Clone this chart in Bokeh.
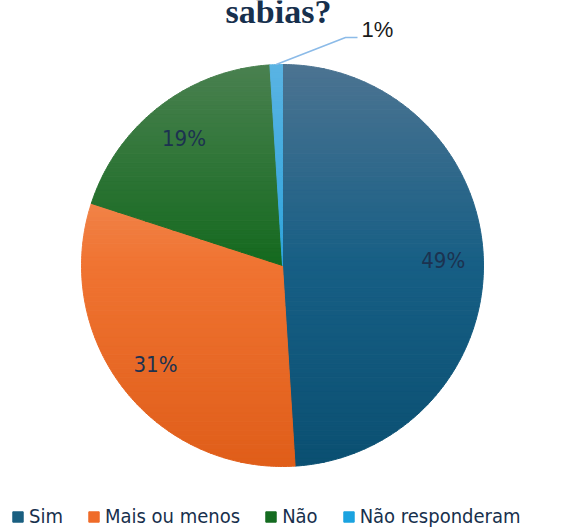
import numpy as np
from bokeh.plotting import figure
from bokeh.models import Range1d, Legend, LegendItem
from bokeh.core.properties import value
from bokeh.embed import file_html
from bokeh.resources import INLINE

# ---- data ----
categories = ["Sim", "Mais ou menos", "Não", "Não responderam"]
values = [49, 31, 19, 1]
labels = ["49%", "31%", "19%", "1%"]
title_text = "sabias?"

# gradient stops per slice (top, middle, bottom of the pie)
colors_top = ["#4c7492", "#f4a377", "#4a8150", "#5ab4e4"]
colors_mid = ["#175f85", "#f07432", "#156a1f", "#2ea4dc"]
colors_bot = ["#0b5072", "#e05e1a", "#0e5e18", "#1d8fc8"]
legend_colors = ["#1a5f80", "#ef6b28", "#146b20", "#1ba3e0"]

W, H = 561, 528
p = figure(width=W, height=H, x_range=Range1d(0, W), y_range=Range1d(0, H),
           output_backend="svg", toolbar_location=None, min_border=0,
           x_axis_type=None, y_axis_type=None)
p.grid.visible = False
p.outline_line_color = None
p.background_fill_color = "white"
p.border_fill_color = "white"

cx, cy, r = 282.0, 263.0, 201.0


def hex2rgb(h):
    h = h.lstrip("#")
    return np.array([int(h[i:i + 2], 16) for i in (0, 2, 4)], dtype=float)


def interp(t, c0, c1, c2):
    a, b, c = hex2rgb(c0), hex2rgb(c1), hex2rgb(c2)
    if t < 0.5:
        v = a + (b - a) * (t / 0.5)
    else:
        v = b + (c - b) * ((t - 0.5) / 0.5)
    v = np.clip(v, 0, 255).astype(int)
    return "#%02x%02x%02x" % tuple(v)


def clip(poly, yv, keep_above):
    out = []
    n = len(poly)
    for i in range(n):
        P = poly[i]
        Q = poly[(i + 1) % n]
        inP = P[1] >= yv if keep_above else P[1] <= yv
        inQ = Q[1] >= yv if keep_above else Q[1] <= yv
        if inP:
            out.append(P)
        if inP != inQ:
            t = (yv - P[1]) / (Q[1] - P[1])
            out.append((P[0] + t * (Q[0] - P[0]), yv))
    return out


fr = np.array(values, dtype=float) / sum(values)
cum = np.concatenate([[0.0], np.cumsum(fr)])

xs, ys, fills = [], [], []
nb = 90
edges = np.linspace(cy - r, cy + r, nb + 1)
for i in range(len(values)):
    a0, a1 = cum[i] * 2 * np.pi, cum[i + 1] * 2 * np.pi
    th = np.linspace(a0, a1, max(8, int((a1 - a0) * 80)))
    poly = [(cx, cy)] + [(cx + r * np.sin(t), cy + r * np.cos(t)) for t in th]
    for b in range(nb):
        lo, hi = edges[b], edges[b + 1]
        q = clip(clip(poly, lo, True), hi, False)
        if len(q) < 3:
            continue
        tpos = (cy + r - (lo + hi) / 2) / (2 * r)
        col = interp(tpos, colors_top[i], colors_mid[i], colors_bot[i])
        xs.append([pt[0] for pt in q])
        ys.append([pt[1] for pt in q])
        fills.append(col)

p.patches(xs, ys, fill_color=fills, line_color=fills, line_width=1)

# labels inside slices
lab_font = "'DejaVu Sans Condensed', 'Roboto Condensed', Roboto, sans-serif"
mids = (cum[:-1] + cum[1:]) / 2 * 2 * np.pi
rl = 0.8 * r
for i in range(3):
    p.text(x=[cx + rl * np.sin(mids[i])], y=[cy + rl * np.cos(mids[i])], text=[labels[i]],
           text_font=value(lab_font), text_font_size="22px", text_color="#1c3250",
           text_align="center", text_baseline="middle")

# outside label for the small slice with leader line
mx, my = cx + r * np.sin(mids[3]), cy + r * np.cos(mids[3])
p.line(x=[mx, 345, 357], y=[my, 491, 491], line_color="#8cbbe8", line_width=1.6)
p.text(x=[361], y=[499], text=[labels[3]], text_font=value("Liberation Sans"),
       text_font_size="22px", text_color="#1a1a1a", text_align="left",
       text_baseline="middle")

# title (partially cut at the top, as in the original)
p.text(x=[278], y=[517], text=[title_text], text_font=value("Liberation Serif"),
       text_font_style="bold", text_font_size="34px", text_color="#17304d",
       text_align="center", text_baseline="middle")

# legend
items = []
for c, lc in zip(categories, legend_colors):
    rr = p.quad(left=[np.nan], right=[np.nan], top=[np.nan], bottom=[np.nan],
                fill_color=lc, line_color=lc)
    items.append(LegendItem(label=c, renderers=[rr]))
leg = Legend(items=items, orientation="horizontal", location=(11, 0),
             glyph_width=13, glyph_height=13, label_standoff=5, spacing=24,
             padding=0, margin=0, border_line_color=None, background_fill_alpha=0,
             label_text_font=lab_font, label_text_font_size="20px",
             label_text_color="#17304d")
p.add_layout(leg)

open("out.html", "w").write(file_html(p, INLINE))
